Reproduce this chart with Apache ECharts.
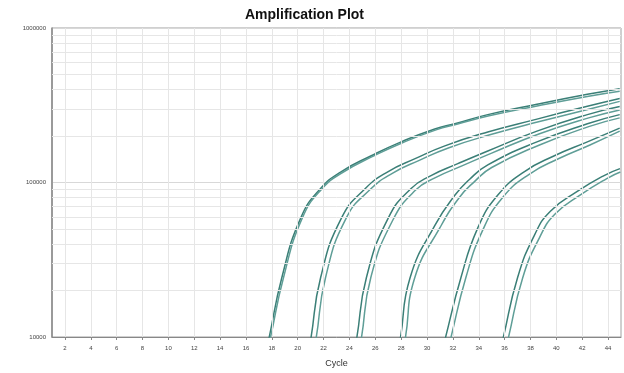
<!DOCTYPE html>
<html>
<head>
<meta charset="utf-8">
<script src="https://cdn.jsdelivr.net/npm/echarts@6/dist/echarts.min.js"></script>
<style>
html,body{margin:0;padding:0;background:#fff;}
#chart{width:624px;height:373px;}
</style>
</head>
<body>
<div id="chart"></div>
<script>
// Tick labels
const cycleTicks = [2,4,6,8,10,12,14,16,18,20,22,24,26,28,30,32,34,36,38,40,42,44];
const yTicks = [10000, 100000, 1000000];
const minorY = [20000,30000,40000,50000,60000,70000,80000,90000,200000,300000,400000,500000,600000,700000,800000,900000];

// Curves: [cycle, fluorescence]
const curveA1 = [[17.5,8000],[17.75,9560],[18.77,24200],[20.23,58800],[21.77,91500],[23.38,117700],[25.69,149000],[28.0,183200],[30.6,221900],[32.15,240000],[34.7,275000],[38.5,320800],[42.4,372000],[44.9,405000]];
const curveA2 = [[17.6,8000],[17.85,9560],[18.9,24200],[20.35,58800],[21.9,91500],[23.5,116500],[25.8,147500],[28.1,181000],[30.7,219000],[32.3,238000],[34.8,270000],[38.6,314000],[42.5,362000],[44.9,390000]];
const curveB1 = [[20.8,8000],[21.0,9560],[21.77,24200],[23.38,58800],[25.23,91500],[27.0,117700],[29.08,142600],[31.38,172700],[34.7,212300],[38.5,257200],[42.4,311700],[44.9,350000]];
const curveB2 = [[21.15,8000],[21.4,9560],[22.15,24200],[23.75,58800],[25.6,90000],[27.35,115000],[29.4,139000],[31.7,168000],[35.0,205000],[38.7,248000],[42.5,298000],[44.9,335000]];
const curveC1 = [[24.3,8000],[24.54,9560],[25.31,24200],[27.0,58800],[28.77,91500],[30.31,110900],[32.38,132400],[34.7,160000],[38.5,215000],[42.4,275000],[44.9,310000]];
const curveC2 = [[24.65,8000],[24.9,9560],[25.65,24200],[27.35,57000],[29.1,89000],[30.65,107500],[32.7,128000],[35.0,155000],[38.7,207000],[42.5,262000],[44.9,295000]];
const curveD1 = [[27.7,8000],[27.92,9560],[28.69,24200],[30.62,53000],[32.15,82600],[33.3,105000],[34.7,130000],[38.5,183200],[42.4,240000],[44.9,275000]];
const curveD2 = [[28.05,8000],[28.3,9560],[29.05,24200],[31.0,51000],[32.5,80000],[33.65,101000],[35.0,125000],[38.7,175000],[42.5,230000],[44.9,262000]];
const curveE1 = [[31.15,8000],[31.38,9560],[32.62,24200],[33.92,50700],[35.46,82600],[37.54,117700],[39.85,149000],[42.4,183200],[44.9,225000]];
const curveE2 = [[31.55,8000],[31.8,9560],[33.0,24200],[34.3,49000],[35.85,80000],[37.9,113000],[40.2,143000],[42.6,175000],[44.9,215000]];
const curveF1 = [[35.6,8000],[35.85,9560],[37.0,24200],[38.31,45700],[39.54,65200],[41.62,87500],[43.69,110900],[44.92,123000]];
const curveF2 = [[36.0,8000],[36.25,9560],[37.4,24200],[38.7,44000],[39.9,62500],[41.95,84000],[43.9,106000],[44.95,117000]];

const curves = [curveA1,curveA2,curveB1,curveB2,curveC1,curveC2,curveD1,curveD2,curveE1,curveE2,curveF1,curveF2];
const lineColors = ['#3b7f77','#5f9e97'];

const chart = echarts.init(document.getElementById('chart'), null, {renderer:'canvas'});

const series = curves.map((d, i) => ({
  type: 'line',
  data: d,
  smooth: 0.5,
  showSymbol: false,
  symbol: 'none',
  clip: true,
  silent: true,
  z: 3,
  lineStyle: {color: lineColors[i % 2], width: 1.5}
}));

// grid lines as mark lines (minor log lines + vertical cycle lines)
series.unshift({
  type: 'line',
  data: [],
  silent: true,
  z: 1,
  markLine: {
    silent: true,
    symbol: ['none','none'],
    label: {show: false},
    animation: false,
    lineStyle: {color: '#e6e6e6', width: 1, type: 'solid'},
    data: minorY.map(v => ({yAxis: v})).concat(cycleTicks.map(c => ({xAxis: c})))
  }
});

chart.setOption({
  animation: false,
  backgroundColor: '#ffffff',
  title: {
    text: 'Amplification Plot',
    left: 240,
    top: 3,
    textStyle: {fontFamily: 'Liberation Sans', fontWeight: 'bold', fontSize: 14, color: '#111'}
  },
  grid: {
    left: 52, right: 3, top: 28, bottom: 33,
    show: true, borderColor: '#a0a0a0', borderWidth: 1, backgroundColor: '#fff'
  },
  xAxis: {
    type: 'value',
    min: 1, max: 45,
    name: 'Cycle',
    nameLocation: 'middle',
    nameGap: 22,
    nameTextStyle: {fontFamily: 'Liberation Sans', fontSize: 9, color: '#333'},
    axisLine: {show: true, onZero: false, lineStyle: {color: '#888', width: 1}},
    axisTick: {show: true, length: 3, lineStyle: {color: '#888'}, customValues: cycleTicks},
    axisLabel: {fontSize: 6, color: '#444', fontFamily: 'Liberation Sans', margin: 8, customValues: cycleTicks},
    splitLine: {show: false}
  },
  yAxis: {
    type: 'log',
    logBase: 10,
    min: 10000, max: 1000000,
    axisLine: {show: true, lineStyle: {color: '#888', width: 1.5}},
    axisTick: {show: false},
    axisLabel: {fontSize: 6, color: '#444', fontFamily: 'Liberation Sans', margin: 6,
      formatter: v => String(Math.round(v))},
    splitLine: {show: true, lineStyle: {color: '#d8d8d8', width: 1}}
  },
  series: series
});
</script>
</body>
</html>
